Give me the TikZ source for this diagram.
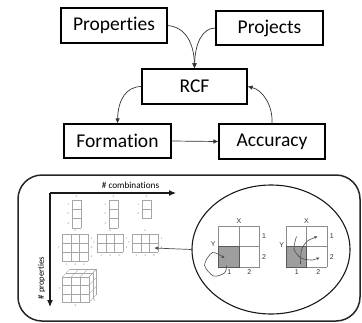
\documentclass[tikz,border=0pt]{standalone}
\usepackage{fontspec}
\setmainfont{Carlito}[Ligatures=NoCommon]
\newfontfamily\gridfont{Liberation Sans}
\usetikzlibrary{arrows.meta,shapes.geometric}
% table of cols x rows cells in the current (scaled) coordinate system
\newcommand{\celltable}[3]{%
  \foreach \ci in {0,...,#1} \draw[#3] (\ci,0) -- (\ci,#2);
  \foreach \cj in {0,...,#2} \draw[#3] (0,\cj) -- (#1,\cj);
}
\begin{document}
\begin{tikzpicture}[x=1pt,y=-1pt,
  flowbox/.style={draw=black, line width=1.1pt, minimum width=#1, minimum height=35pt,
    inner sep=0pt, font=\fontsize{19.5}{22}\selectfont},
  flow/.style={draw=black!80, line width=0.7pt, -{Latex[length=5pt,width=4.5pt]}},
  axis/.style={draw=black!90, line width=1.1pt, -{Latex[length=7pt,width=6pt]}},
  fine/.style={draw=black!35, line width=0.35pt},
  tinylab/.style={font=\gridfont\fontsize{2.6}{3}\selectfont, text=black!55, inner sep=0pt},
  cellline/.style={draw=black!45, line width=0.75pt},
  glab/.style={font=\gridfont\fontsize{7}{8}\selectfont, text=black!80, inner sep=0pt},
  turn/.style={draw=black!70, line width=0.6pt, -{Stealth[length=3.2pt,width=2.8pt]}}
]
\useasboundingbox (0,0) rectangle (362,322);

% ---- flow chart ----
\node[flowbox=106pt] (prop) at (114,25.5) {Properties};
\node[flowbox=107pt, minimum height=34pt] (proj) at (269.5,28) {Projects};
\node[flowbox=105pt] (rcf) at (194.5,86.5) {RCF};
\node[flowbox=107pt, minimum height=34pt] (form) at (117.5,141) {Formation};
\node[flowbox=106pt] (acc) at (272,141.5) {Accuracy};

\draw[flow] (prop.east) .. controls (186,27) and (194,44) .. (rcf.north);
\draw[flow] (proj.west) .. controls (202,28) and (195,44) .. (rcf.north);
\draw[flow] (rcf.west) .. controls (126,86.5) and (118,100) .. (form.north);
\draw[flow] (form.east) -- (acc.west);
\draw[flow] (acc.north) .. controls (273,106) and (263,90) .. (rcf.east);

% ---- lower panel ----
\draw[line width=1.5pt, black!85, rounded corners=24pt] (18,175) rectangle (360,321);

\coordinate (orig) at (50,193);
\coordinate (xend) at (176,193);
\coordinate (yend) at (50,307);
\draw[axis] (orig) -- (xend);
\draw[axis] (orig) -- (yend);
\node[font=\fontsize{9.2}{10}\selectfont] (xlab) at (130.5,185) {\# combinations};
\node[font=\fontsize{8.6}{10}\selectfont, rotate=90] (ylab) at (41.5,278) {\# properties};

% single columns
\begin{scope}[shift={(72,200)}, x=9pt, y=-9.33pt]
  \celltable{1}{3}{fine}
\end{scope}
\begin{scope}[shift={(109,200)}, x=9pt, y=-9.33pt]
  \celltable{1}{3}{fine}
\end{scope}
\begin{scope}[shift={(142,200)}, x=9pt, y=-9.33pt]
  \celltable{1}{2}{fine}
\end{scope}
\foreach \cx in {72,109} {
  \node[tinylab] at (\cx+4.5,197) {X};
  \foreach \r/\t in {0/1,1/2,2/3}
    \node[tinylab] at (\cx-3.7,204.7+9.33*\r) {\t};
}
\node[tinylab] at (146.5,197) {X};
\node[tinylab] at (138.3,204.7) {1};
\node[tinylab] at (138.3,214) {2};

% two-dimensional tables
\begin{scope}[shift={(62,234)}, x=8.83pt, y=-9pt]
  \celltable{3}{3}{fine}
\end{scope}
\node[tinylab] at (75.25,231) {X};
\node[tinylab] at (59,247.5) {Y};
\foreach \r/\t in {0/1,1/2,2/3} {
  \node[tinylab] at (91.5,238.5+9*\r) {\t};
  \node[tinylab] at (66.4+8.83*\r,264.5) {\t};
}
\foreach \gx in {97,132} {
  \begin{scope}[shift={(\gx,234)}, x=8.83pt, y=-9pt]
    \celltable{3}{2}{fine}
  \end{scope}
  \node[tinylab] at (\gx+13.25,231) {X};
  \node[tinylab] at (\gx-3,243) {Y};
  \node[tinylab] at (\gx+29.5,238.5) {1};
  \node[tinylab] at (\gx+29.5,247.5) {2};
  \foreach \r/\t in {0/1,1/2,2/3}
    \node[tinylab] at (\gx+4.4+8.83*\r,255.5) {\t};
}

% cube: front face, top face and right face
\begin{scope}[shift={(62.5,277)}, x=8.83pt, y=-8.5pt]
  \celltable{3}{3}{fine}
  \foreach \i in {0,1,2,3}
    \draw[fine] (\i,0) -- ++(0.85,-0.94);
  \foreach \j in {0,1,2,3}
    \draw[fine] (3,\j) -- ++(0.85,-0.94);
  \draw[fine] (0.425,-0.47) -- ++(3,0) -- ++(0,3);
  \draw[fine] (0.85,-0.94) -- ++(3,0) -- ++(0,3);
\end{scope}
\node[tinylab] at (59.5,288.5) {Y};
\node[tinylab] at (75.5,305.5) {X};
\node[tinylab] at (94.5,301) {Z};

% magnified view
\node[draw=black!90, ellipse, line width=1.1pt, minimum width=158pt, minimum height=129pt,
  inner sep=0pt] (lens) at (271,249.5) {};
\coordinate (cellF) at (154,248);
\draw[draw=black!70, line width=0.7pt, -{Latex[length=4pt,width=3.5pt]}] (lens.west) -- (cellF);

\begin{scope}[shift={(218.5,226)}, x=20.5pt, y=-20.5pt]
  \fill[black!38] (0,1) rectangle (1,2);
  \celltable{2}{2}{cellline}
  \draw[black!65, line width=0.8pt] (0,1) rectangle (1,2);
\end{scope}
\node[glab] at (239,221) {X};
\node[glab] at (264,236.5) {1};
\node[glab] at (264,257) {2};
\node[glab] at (213.3,244.5) {Y};
\node[glab] at (229.3,272) {1};
\node[glab] at (249.3,272) {2};
\draw[turn] plot[smooth] coordinates {(226.7,265.5) (224.5,273) (213.5,276) (204.5,265) (212.5,252.5) (224.5,258)};

\begin{scope}[shift={(286,226)}, x=20.5pt, y=-20.5pt]
  \fill[black!38] (0,1) rectangle (1,2);
  \celltable{2}{2}{cellline}
  \draw[black!65, line width=0.8pt] (0,1) rectangle (1,2);
\end{scope}
\node[glab] at (306.5,221) {X};
\node[glab] at (331.7,236.5) {1};
\node[glab] at (331.7,257) {2};
\node[glab] at (281.7,245) {Y};
\node[glab] at (296.7,272.5) {1};
\node[glab] at (318.3,272.5) {2};
\draw[turn] plot[smooth] coordinates {(296.5,236.5) (294,249) (301,258) (312,260) (319.5,257.5)};
\draw[turn] plot[smooth] coordinates {(300.5,264) (301.5,250) (307.5,241) (317.5,236.5)};
\end{tikzpicture}
\end{document}
